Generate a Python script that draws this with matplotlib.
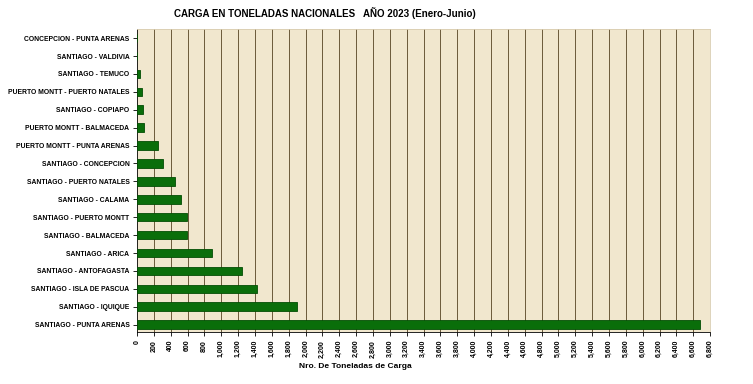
import matplotlib.pyplot as plt
import numpy as np

plt.rcParams['font.family'] = ['Liberation Sans', 'DejaVu Sans']

rutas = ["SANTIAGO - PUNTA ARENAS", "SANTIAGO - IQUIQUE", "SANTIAGO - ISLA DE PASCUA",
         "SANTIAGO - ANTOFAGASTA", "SANTIAGO - ARICA", "SANTIAGO - BALMACEDA",
         "SANTIAGO - PUERTO MONTT", "SANTIAGO - CALAMA", "SANTIAGO - PUERTO NATALES",
         "SANTIAGO - CONCEPCION", "PUERTO MONTT - PUNTA ARENAS", "PUERTO MONTT - BALMACEDA",
         "SANTIAGO - COPIAPO", "PUERTO MONTT - PUERTO NATALES", "SANTIAGO - TEMUCO",
         "SANTIAGO - VALDIVIA", "CONCEPCION - PUNTA ARENAS"]
toneladas = [6680, 1895, 1426, 1242, 884, 590, 590, 522, 447, 310, 244, 80, 65, 55, 40, 3, 5]
ticks_x = list(range(0, 6801, 200))

fig = plt.figure(figsize=(7.53, 3.84), dpi=100)
ax = fig.add_axes([0.182, 0.135, 0.761, 0.789])
ax.set_facecolor('#f1e7ce')

y = np.arange(len(rutas))
ax.barh(y, toneladas, height=0.48, color='#0a6e0a', edgecolor='#034d03', linewidth=0.6, zorder=3)

ax.set_xlim(0, 6800)
ax.set_ylim(-0.42, len(rutas) - 0.5)
ax.set_xticks(ticks_x)
ax.set_xticklabels([f"{t:,}" for t in ticks_x], rotation=90, fontsize=5.0, fontweight='bold')
ax.set_yticks(y)
ax.set_yticklabels(rutas, fontsize=4.9, fontweight='bold')
ax.tick_params(axis='both', length=3, width=0.6, pad=2.5)

for t in ticks_x[1:-1]:
    ax.axvline(t, color='#6b5a3a', lw=0.7, zorder=1)

for s in ['top', 'right']:
    ax.spines[s].set_color('#d8ccb0')
    ax.spines[s].set_linewidth(0.6)
for s in ['left', 'bottom']:
    ax.spines[s].set_color('black')
    ax.spines[s].set_linewidth(0.6)

fig.text(0.432, 0.982, "CARGA EN TONELADAS NACIONALES   AÑO 2023 (Enero-Junio)",
         ha='center', va='top', fontsize=7, fontweight='bold')
fig.text(0.472, 0.045, "Nro. De Toneladas de Carga", ha='center', va='center',
         fontsize=6, fontweight='bold')

fig.savefig('out.png', dpi=100)
